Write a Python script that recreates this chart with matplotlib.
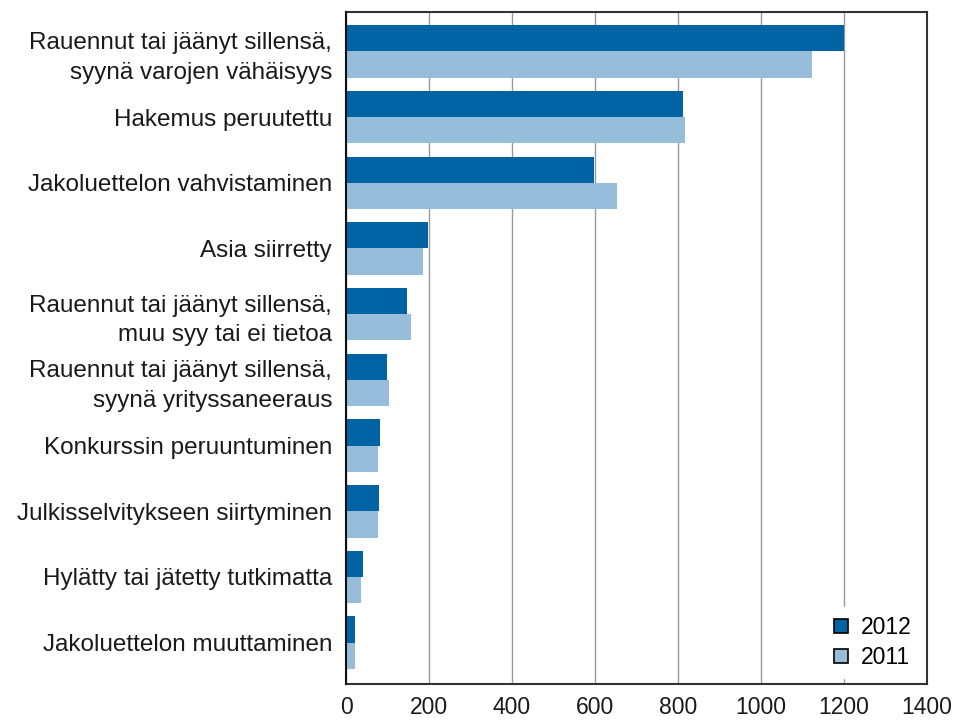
import numpy as np
import matplotlib
matplotlib.use("Agg")
from matplotlib import pyplot as plt

categories = [
    "Rauennut tai jäänyt sillensä,\nsyynä varojen vähäisyys",
    "Hakemus peruutettu",
    "Jakoluettelon vahvistaminen",
    "Asia siirretty",
    "Rauennut tai jäänyt sillensä,\nmuu syy tai ei tietoa",
    "Rauennut tai jäänyt sillensä,\nsyynä yrityssaneeraus",
    "Konkurssin peruuntuminen",
    "Julkisselvitykseen siirtyminen",
    "Hylätty tai jätetty tutkimatta",
    "Jakoluettelon muuttaminen",
]
values_2012 = [1200, 813, 597, 197, 147, 99, 83, 79, 40, 21]
values_2011 = [1123, 818, 652, 185, 156, 103, 78, 78, 35, 21]
series_labels = ["2012", "2011"]
xticks = [0, 200, 400, 600, 800, 1000, 1200, 1400]

plt.rcParams['font.family'] = ['Liberation Sans', 'DejaVu Sans']
plt.rcParams['font.size'] = 16

fig = plt.figure(figsize=(9.55, 7.2), dpi=100)
ax = fig.add_axes([346 / 955, 1 - 684 / 720, (927 - 346) / 955, (684 - 12) / 720])

y = np.arange(len(categories))
h = 0.4
ax.barh(y - h / 2, values_2012, height=h, color="#0064a4", label=series_labels[0], zorder=3)
ax.barh(y + h / 2, values_2011, height=h, color="#96bedb", label=series_labels[1], zorder=3)

ax.set_ylim(9.63, -0.6)
ax.set_xlim(0, 1400)
ax.set_xticks(xticks)
ax.set_xticklabels([str(t) for t in xticks], fontsize=16.5)
ax.set_yticks(y)
ax.set_yticklabels(categories, linespacing=1.45, ha="right", fontsize=17.5)
ax.tick_params(length=0)
ax.tick_params(axis="y", pad=10)
ax.tick_params(axis="x", pad=9, colors="#1a1a1a")
for lab in ax.get_yticklabels():
    lab.set_color("#1a1a1a")

ax.grid(axis="x", color="#999999", linewidth=1, zorder=0)
for s in ax.spines.values():
    s.set_color("#333333")
    s.set_linewidth(1.5)
ax.spines["left"].set_color("#111111")
ax.spines["left"].set_zorder(5)

leg = ax.legend(loc="lower right", frameon=True, facecolor="white", edgecolor="white",
                framealpha=1, handlelength=0.6, handleheight=0.6, handletextpad=0.6,
                labelspacing=0.3, borderaxespad=0.25, fontsize=16.5)
for patch in leg.get_patches():
    patch.set_edgecolor("black")
    patch.set_linewidth(1.2)

fig.savefig("out.png", dpi=100)
